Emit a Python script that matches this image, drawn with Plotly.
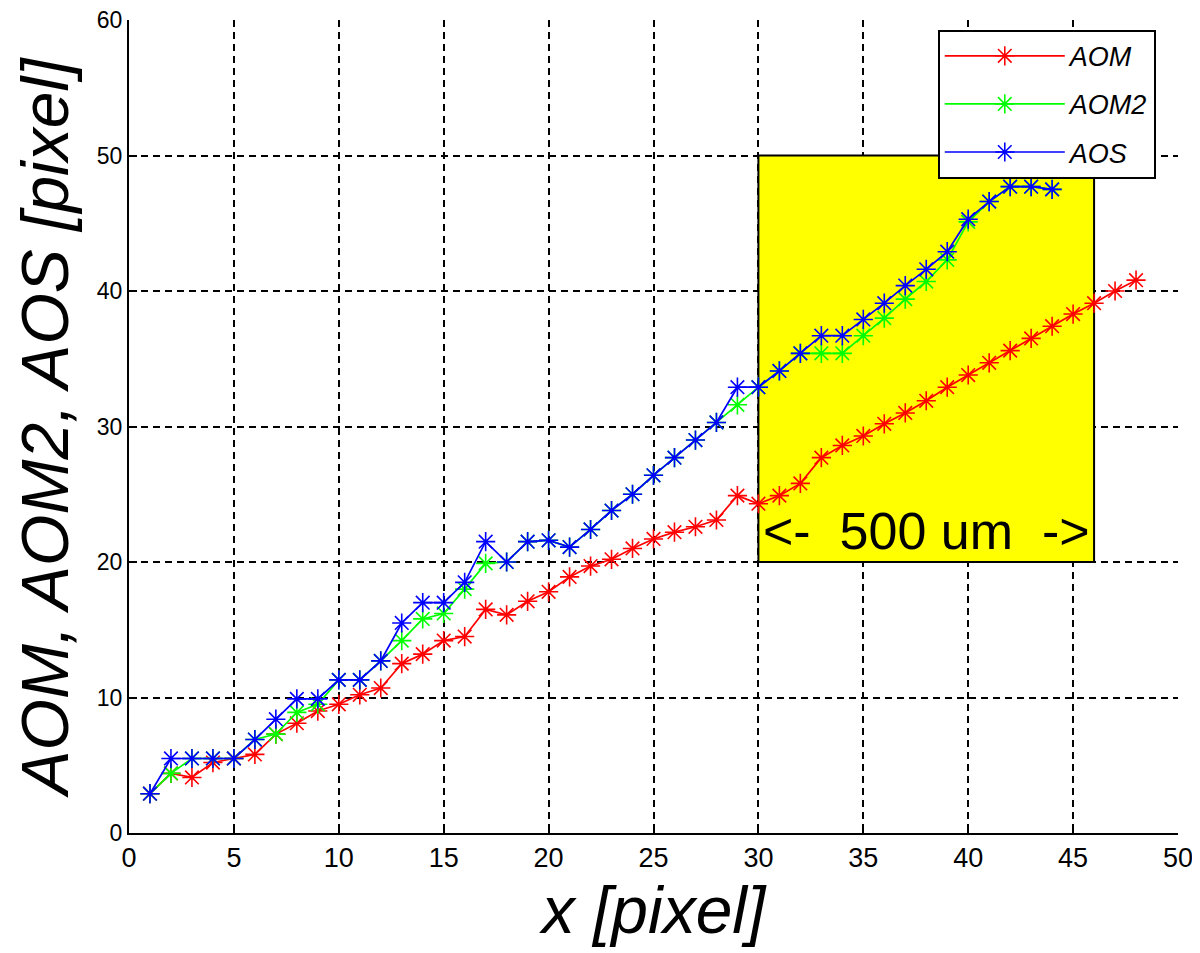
import plotly.graph_objects as go

x_aom = list(range(1, 49))
aom = [2.9, 4.4, 4.1, 5.2, 5.5, 5.8, 7.3, 8.1, 9.0, 9.5,
       10.2, 10.7, 12.5, 13.2, 14.2, 14.5, 16.5, 16.1, 17.1, 17.8,
       18.9, 19.7, 20.2, 21.0, 21.7, 22.2, 22.6, 23.1, 24.9, 24.3,
       24.9, 25.8, 27.7, 28.6, 29.3, 30.2, 31.0, 31.9, 32.9, 33.8,
       34.7, 35.6, 36.5, 37.4, 38.3, 39.1, 40.0, 40.8]

x_aos = list(range(1, 45))
aom2 = [2.9, 4.4, 5.5, 5.5, 5.5, 6.9, 7.3, 8.9, 9.5, 11.3,
        11.3, 12.7, 14.2, 15.8, 16.2, 18.0, 19.9, 20.0, 21.5, 21.6,
        21.1, 22.4, 23.8, 25.0, 26.4, 27.7, 29.0, 30.3, 31.6, 32.9,
        34.1, 35.4, 35.4, 35.4, 36.7, 38.0, 39.4, 40.7, 42.3, 45.1,
        46.6, 47.7, 47.7, 47.5]
aos = [2.9, 5.5, 5.5, 5.5, 5.5, 6.9, 8.4, 9.9, 9.9, 11.3,
       11.3, 12.7, 15.5, 17.0, 17.0, 18.5, 21.5, 20.0, 21.5, 21.6,
       21.1, 22.4, 23.8, 25.0, 26.4, 27.7, 29.0, 30.3, 32.9, 32.9,
       34.1, 35.4, 36.7, 36.7, 37.9, 39.1, 40.4, 41.6, 42.9, 45.3,
       46.6, 47.7, 47.7, 47.5]

series_names = ["AOM", "AOM2", "AOS"]
series_colors = ["#FF0000", "#00FF00", "#0000FF"]

box_x = [30, 46]
box_y = [20, 50]
box_label = "<-  500 um  ->"

x_ticks = list(range(0, 51, 5))
y_ticks = list(range(0, 61, 10))

fig = go.Figure()
for name, xs, ys, col in zip(series_names, [x_aom, x_aos, x_aos], [aom, aom2, aos], series_colors):
    fig.add_trace(go.Scatter(
        x=xs, y=ys, name=name, legendgroup=name, mode="lines+markers",
        line=dict(color=col, width=1.7),
        marker=dict(symbol="asterisk-open", size=16, color=col,
                    line=dict(color=col, width=1.6)),
    ))

fig.add_shape(type="rect", x0=box_x[0], x1=box_x[1], y0=box_y[0], y1=box_y[1],
              xref="x", yref="y", fillcolor="#FFFF00",
              line=dict(color="black", width=2), layer="between")
fig.add_annotation(x=(box_x[0] + box_x[1]) / 2, y=box_y[0] + 2.3, xref="x", yref="y",
                   text=box_label, showarrow=False,
                   font=dict(family="Liberation Sans, Arial", size=52, color="black"))

fig.update_layout(
    width=1200, height=953,
    margin=dict(l=121, r=30, t=12, b=128),
    plot_bgcolor="white", paper_bgcolor="white",
    showlegend=True,
    legend=dict(x=0.771, y=0.988, xanchor="left", yanchor="top",
                bgcolor="white", bordercolor="black", borderwidth=2,
                font=dict(family="Liberation Sans, Arial", size=27, color="black", style="italic"),
                itemwidth=120, tracegroupgap=10),
    font=dict(family="Liberation Sans, Arial", color="black"),
)
fig.update_xaxes(
    range=[0, 50], tickvals=x_ticks, ticktext=[str(v) for v in x_ticks],
    automargin=False, ticklabeloverflow="allow",
    showline=True, linecolor="black", linewidth=2, mirror=False,
    ticks="inside", ticklen=8, tickcolor="black", tickwidth=2,
    showgrid=True, gridcolor="black", gridwidth=2, griddash="7px,5px",
    zeroline=False,
    tickfont=dict(family="Liberation Sans, Arial", size=27, color="black"),
    title=dict(text="x [pixel]", standoff=10,
               font=dict(family="Liberation Sans, Arial", size=66, color="black", style="italic")),
)
fig.update_yaxes(
    range=[0, 60], tickvals=y_ticks, ticktext=[str(v) for v in y_ticks],
    automargin=False, ticklabeloverflow="allow",
    showline=True, linecolor="black", linewidth=2, mirror=False,
    ticks="inside", ticklen=8, tickcolor="black", tickwidth=2,
    showgrid=True, gridcolor="black", gridwidth=2, griddash="7px,5px",
    zeroline=False,
    tickfont=dict(family="Liberation Sans, Arial", size=23, color="black"),
    title=dict(text="AOM, AOM2, AOS [pixel]", standoff=14,
               font=dict(family="Liberation Sans, Arial", size=66, color="black", style="italic")),
)

fig.write_html("out.html")
